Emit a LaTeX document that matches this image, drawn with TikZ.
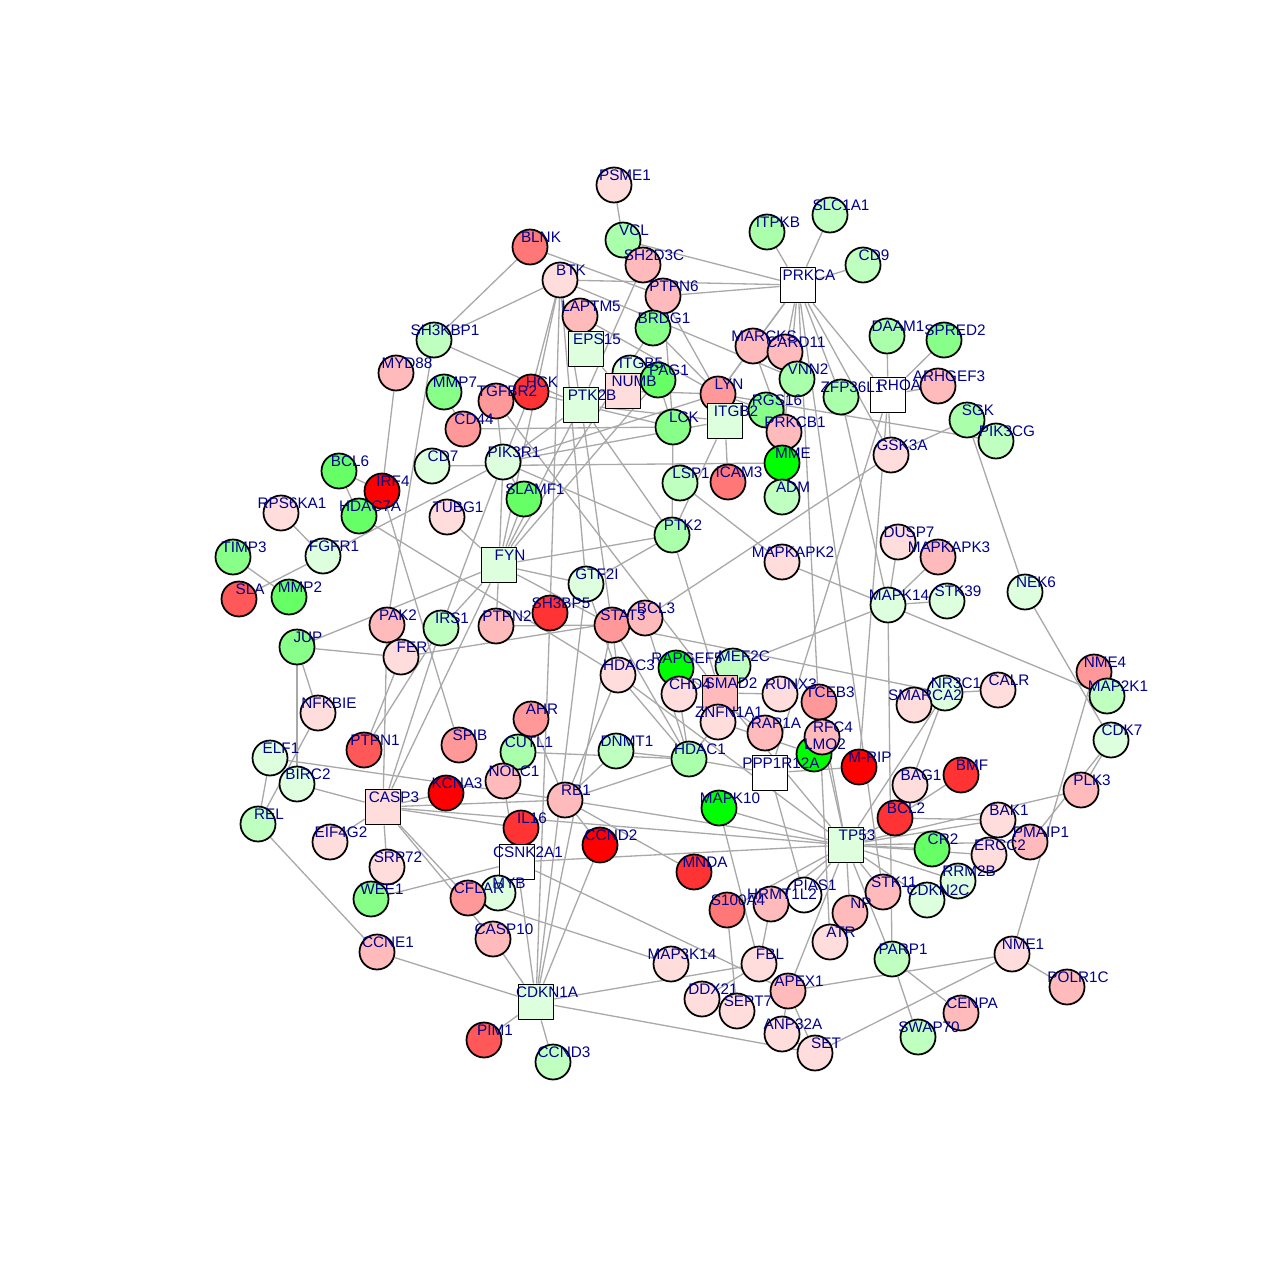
\documentclass[tikz,border=0pt]{standalone}
\usepackage{fontspec}
\setmainfont{Liberation Sans}
\usepackage{xcolor}
\usepackage{tikz}
\definecolor{pA}{HTML}{FFDDDD}
\definecolor{pB}{HTML}{FFBBBB}
\definecolor{pC}{HTML}{FF9999}
\definecolor{pD}{HTML}{FF7777}
\definecolor{rA}{HTML}{FF5858}
\definecolor{rB}{HTML}{FF3333}
\definecolor{rC}{HTML}{FF0000}
\definecolor{gA}{HTML}{DDFFDD}
\definecolor{gB}{HTML}{BFFFBF}
\definecolor{gC}{HTML}{AAFFAA}
\definecolor{gD}{HTML}{88FF88}
\definecolor{gE}{HTML}{66FF66}
\definecolor{gF}{HTML}{00FF00}
\definecolor{lblue}{HTML}{00008B}
\definecolor{egray}{HTML}{A9A9A9}
\pgfdeclarelayer{edgelayer}
\pgfdeclarelayer{textlayer}
\pgfsetlayers{edgelayer,main,textlayer}
\tikzset{
  cv/.style={circle, draw=black, line width=1pt, minimum size=0.7cm, inner sep=0pt},
  sv/.style={rectangle, draw=black, line width=1pt, minimum size=0.7cm, inner sep=0pt},
  lbl/.style={text=lblue, font=\fontsize{8.7}{10}\selectfont, inner sep=0pt},
  edge/.style={draw=egray, line width=0.75pt},
  every picture/.style={line cap=round, line join=round}
}

\begin{document}
\begin{tikzpicture}[x=0.02cm, y=-0.02cm]
  \useasboundingbox (0,0) rectangle (1280,1280);

  % genes
  \foreach \name/\x/\y/\c/\s in {
    PSME1/614/185/pA/cv, VCL/623/240/gC/cv, SLC1A1/830/215/gB/cv, ITPKB/767/232/gC/cv,
    CD9/863/265/gB/cv, PRKCA/798/285/white/sv, BLNK/530/247/pD/cv, BTK/560/280/pA/cv,
    SH2D3C/643/265/pB/cv, PTPN6/663/296/pB/cv, LAPTM5/580/316/pB/cv, BRDG1/653/328/gD/cv,
    SH3KBP1/434/340/gB/cv, MYD88/396/373/pB/cv, MMP7/444/392/gD/cv, EPS15/586/349/gA/sv,
    ITGB5/630/373/gA/cv, NUMB/623/391/pA/sv, PAG1/658/380/gE/cv, HCK/531/392/rB/cv,
    TGFBR2/496/401/pC/cv, PTK2B/581/405/gA/sv, CD44/463/429/pC/cv, LCK/673/427/gD/cv,
    MARCKS/753/346/pB/cv, CARD11/785/352/pB/cv, VNN2/797/379/gC/cv, LYN/718/394/pC/cv,
    ITGB2/725/421/gA/sv, RGS16/766/410/gD/cv, PRKCB1/784/432/pB/cv, ZFP36L1/841/397/gC/cv,
    RHOA/888/395/white/sv, DAAM1/887/336/gC/cv, SPRED2/944/340/gD/cv, ARHGEF3/938/386/pB/cv,
    SGK/967/420/gC/cv, PIK3CG/996/441/gB/cv, GSK3A/891/455/pA/cv, MME/782/463/gF/cv,
    ADM/782/497/gB/cv, ICAM3/728/482/pD/cv, LSP1/680/483/gB/cv, PIK3R1/503/462/gA/cv,
    CD7/432/466/gA/cv, BCL6/339/471/gE/cv, IRF4/382/491/rC/cv, HDAC7A/359/516/gE/cv,
    TUBG1/447/517/pA/cv, SLAMF1/524/499/gE/cv, RPS6KA1/281/513/pA/cv, FGFR1/323/556/gA/cv,
    TIMP3/233/557/gD/cv, SLA/239/599/rA/cv, MMP2/289/597/gE/cv, PTK2/672/535/gC/cv,
    FYN/499/565/gA/sv, DUSP7/898/542/pA/cv, MAPKAPK3/938/557/pB/cv, MAPKAPK2/782/562/pA/cv,
    NEK6/1025/592/gA/cv, GTF2I/586/584/gA/cv, MAPK14/888/605/gA/cv, STK39/947/601/gA/cv,
    PAK2/387/625/pB/cv, IRS1/441/628/gB/cv, PTPN2/496/626/pB/cv, SH3BP5/550/613/rB/cv,
    STAT3/612/625/pC/cv, BCL3/645/618/pB/cv, JUP/297/647/gD/cv, FER/401/657/pA/cv,
    HDAC3/618/675/pA/cv, RAPGEF5/676/668/gF/cv, MEF2C/733/666/gB/cv, CHD4/679/694/pA/cv,
    SMAD2/720/693/pB/sv, RUNX3/780/694/pA/cv, TCEB3/819/702/pC/cv, NR3C1/945/693/gA/cv,
    SMARCA2/914/705/pA/cv, CALR/998/690/pA/cv, NME4/1094/672/pC/cv, MAP2K1/1107/696/gB/cv,
    NFKBIE/318/713/pA/cv, ZNFN1A1/718/722/pA/cv, RAP1A/765/733/pB/cv, LMO2/814/754/gF/cv,
    RFC4/822/737/pB/cv, AHR/531/719/pC/cv, SPIB/459/745/pC/cv, CUTL1/518/752/gC/cv,
    DNMT1/616/751/gB/cv, HDAC1/689/759/gC/cv, PPP1R12A/770/773/white/sv, M-RIP/859/767/rC/cv,
    CDK7/1111/740/gA/cv, PTPN1/364/750/rA/cv, ELF1/270/758/gA/cv, BIRC2/297/784/gA/cv,
    BMF/961/775/rB/cv, BAG1/910/785/pA/cv, PLK3/1081/790/pB/cv, KCNA3/446/793/rC/cv,
    NOLC1/503/781/pB/cv, RB1/565/800/pB/cv, MAPK10/719/808/gF/cv, CASP3/383/807/pA/sv,
    REL/258/824/gB/cv, BCL2/895/818/rB/cv, BAK1/998/820/pA/cv, IL16/521/828/rB/cv,
    EIF4G2/330/842/pA/cv, TP53/846/845/gA/sv, CR2/932/849/gE/cv, PMAIP1/1030/842/pB/cv,
    ERCC2/989/855/pA/cv, CCND2/600/845/rC/cv, CSNK2A1/517/862/white/sv, SRP72/387/867/pA/cv,
    RRM2B/958/881/gA/cv, CDKN2C/927/900/gA/cv, MNDA/694/872/rB/cv, MYB/498/893/gA/cv,
    CFLAR/468/898/pC/cv, WEE1/371/899/gD/cv, PIAS1/804/895/white/cv, HRMT1L2/771/904/pB/cv,
    STK11/883/892/pB/cv, S100A4/727/910/pD/cv, NP/850/913/pB/cv, ATR/830/942/pA/cv,
    CASP10/493/939/pB/cv, CCNE1/377/952/pB/cv, PARP1/892/959/gB/cv, MAP3K14/671/964/pA/cv,
    FBL/759/964/pA/cv, NME1/1012/954/pA/cv, POLR1C/1067/987/pB/cv, APEX1/788/991/pB/cv,
    DDX21/702/999/pA/cv, SEPT7/737/1011/pA/cv, CDKN1A/536/1002/gA/sv, CENPA/961/1013/pB/cv,
    SWAP70/918/1037/gB/cv, ANP32A/782/1034/pA/cv, SET/815/1053/pA/cv, PIM1/484/1040/rA/cv,
    CCND3/553/1062/gB/cv}
  {
    \node[\s, fill=\c] (\name) at (\x,\y) {};
    \begin{pgfonlayer}{textlayer}
      \node[lbl] at (\x+11,\y-10) {\name};
    \end{pgfonlayer}
  }

  % interactions
  \begin{pgfonlayer}{edgelayer}
    \foreach \a/\b in {
      PSME1/VCL, VCL/PRKCA, BTK/PRKCA, PTPN6/PRKCA, ITPKB/PRKCA, SLC1A1/PRKCA, CD9/PRKCA,
      PRKCA/MARCKS, PRKCA/CARD11, PRKCA/LYN, PRKCA/RHOA, PRKCA/PRKCB1, PRKCA/GSK3A,
      PRKCA/ZFP36L1, PRKCA/ATR, PRKCA/STK11,
      BLNK/SH3KBP1, BTK/SH3KBP1, BLNK/PTPN6, SH3KBP1/PAK2, SH3KBP1/PTK2B, MYD88/IRF4,
      BTK/HCK, BTK/PTK2B, BTK/SH3BP5, BTK/GTF2I, BTK/VNN2, BTK/FYN,
      SH2D3C/PTK2B, PTPN6/LYN, PTPN6/LCK, LAPTM5/LYN, BRDG1/FYN, BRDG1/LYN,
      EPS15/NUMB, ITGB5/PTK2B, NUMB/LYN, PAG1/FYN, PAG1/LCK,
      HCK/PTK2B, HCK/PIK3R1, TGFBR2/SMAD2, TGFBR2/PIK3R1, CD44/LCK, CD44/MMP7,
      PTK2B/FYN, PTK2B/PIK3R1, PTK2B/PTK2, PTK2B/STAT3, PTK2B/ITGB2, PTK2B/LCK,
      LCK/PTK2, LYN/ITGB2, LYN/PIK3R1, LYN/PIK3CG, LYN/RGS16,
      ITGB2/ICAM3, ITGB2/PTK2, PRKCB1/CARD11, PRKCB1/MARCKS, MARCKS/LYN,
      RHOA/DAAM1, RHOA/SPRED2, RHOA/ARHGEF3, RHOA/GSK3A, RHOA/PPP1R12A, RHOA/M-RIP,
      SGK/GSK3A, SGK/NEK6, NEK6/CDK7, GSK3A/BCL3, ZFP36L1/MAPK14,
      CD7/MME, LSP1/MAPKAPK2, ADM/MME,
      PIK3R1/FYN, PIK3R1/IRS1, PIK3R1/FGFR1, PIK3R1/SLAMF1, PIK3R1/PTK2, PIK3R1/ITGB2,
      BCL6/HDAC7A, BCL6/IRF4, IRF4/SPIB, HDAC7A/HDAC3,
      RPS6KA1/FGFR1, FGFR1/SLA, TIMP3/MMP2,
      SLAMF1/FYN, TUBG1/FYN,
      FYN/PTK2, FYN/JUP, FYN/IRS1, FYN/CASP3, FYN/STAT3, FYN/GTF2I, FYN/PTPN2,
      GTF2I/HDAC3, GTF2I/PTK2,
      MAPKAPK2/MAPK14, MAPKAPK3/MAPK14, DUSP7/MAPK14, STK39/MAPK14, MAPK14/MEF2C,
      MAPK14/MAP2K1, MAPK14/PARP1,
      PAK2/CASP3, JUP/FER, FER/PTPN1, FER/BCL3, JUP/NFKBIE, JUP/BIRC2, NFKBIE/REL,
      ELF1/REL, ELF1/RB1, REL/CCNE1, PTPN1/IRS1,
      PTPN2/STAT3, STAT3/BCL3, STAT3/NR3C1, STAT3/HDAC1, STAT3/HDAC3, STAT3/CDKN1A,
      BCL3/HDAC1, HDAC3/HDAC1, HDAC3/RB1, RAPGEF5/RAP1A, CHD4/HDAC1,
      SMAD2/RUNX3, SMAD2/TP53, SMAD2/PTK2, ZNFN1A1/HDAC1, LMO2/ZNFN1A1, RFC4/TP53,
      TCEB3/TP53,
      PPP1R12A/M-RIP, PPP1R12A/HDAC1, PPP1R12A/PIAS1,
      AHR/RB1, CUTL1/HDAC1, DNMT1/HDAC1, DNMT1/RB1, RB1/HDAC1, RB1/CCND2, RB1/CASP3,
      RB1/TP53, RB1/MNDA,
      IL16/CASP3, CCND2/CDKN1A, MAPK10/TP53, MAPK10/FBL, KCNA3/CASP3,
      BIRC2/CASP3, CASP3/EIF4G2, CASP3/SRP72, CASP3/CFLAR, CASP3/CASP10, CASP3/IRS1,
      CASP3/TP53,
      WEE1/CSNK2A1, CSNK2A1/TP53, CSNK2A1/CDKN1A, CSNK2A1/MYB, CSNK2A1/NOLC1, CSNK2A1/APEX1,
      CDKN1A/CCND3, CDKN1A/PIM1, CDKN1A/CCNE1, CDKN1A/CASP10, CDKN1A/FBL, CDKN1A/SET,
      CDKN1A/SH3BP5, CDKN1A/GTF2I,
      CFLAR/MAP3K14,
      TP53/BCL2, TP53/BAK1, TP53/PMAIP1, TP53/ERCC2, TP53/CR2, TP53/RRM2B, TP53/CDKN2C,
      TP53/STK11, TP53/NP, TP53/APEX1, TP53/PIAS1, TP53/HRMT1L2, TP53/PARP1,
      TP53/HDAC3, TP53/S100A4, TP53/PLK3, TP53/NR3C1,
      BCL2/BAK1, BCL2/BMF, BAG1/BCL2, BAG1/NR3C1, NR3C1/SMARCA2, NR3C1/CALR,
      CDK7/PLK3, CDK7/PMAIP1, NME4/NME1, NME1/POLR1C, NME1/APEX1, NME1/SET,
      PARP1/CENPA, PARP1/SWAP70, SET/APEX1, SET/ANP32A, ANP32A/APEX1,
      HRMT1L2/FBL, S100A4/SEPT7, DDX21/FBL}
      \draw[edge] (\a) -- (\b);
  \end{pgfonlayer}
\end{tikzpicture}
\end{document}
